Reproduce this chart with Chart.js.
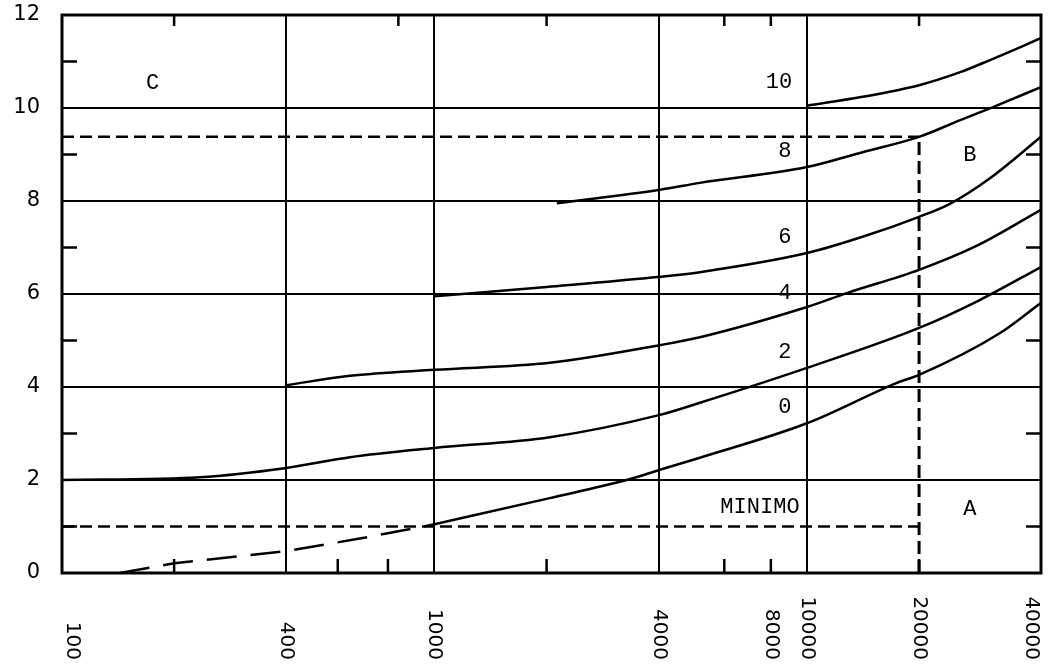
<!DOCTYPE html>
<html>
<head>
<meta charset="utf-8">
<script src="https://cdn.jsdelivr.net/npm/chart.js@4/dist/chart.umd.min.js"></script>
<style>
  body { margin: 0; background: #fff; }
  #wrap { width: 1053px; height: 665px; }
</style>
</head>
<body>
<div id="wrap"><canvas id="grafico"></canvas></div>
<script>
// eje x (logaritmico) y eje y
var xMin = 100, xMax = 42500;
var xGridValues = [400, 1000, 4000, 10000];
var xTickValues = [100, 400, 1000, 4000, 8000, 10000, 20000, 40000];
var xTickLabels = ["100", "400", "1000", "4000", "8000", "10000", "20000", "40000"];
var xMinorBottom = [200, 550, 750, 2000, 6000, 8000, 20000];
var xMinorTop = [200, 800, 2000, 6000, 8000, 20000];
var yMinor = [1, 3, 5, 7, 9, 11];

// curvas
var curva0TrazosX = [143, 200, 400, 619, 925, 1000];
var curva0TrazosY = [0, 0.21, 0.47, 0.73, 0.99, 1.05];
var curva0X = [1000, 2040, 3350, 4030, 5160, 10000, 17450, 20000, 33000, 42500];
var curva0Y = [1.05, 1.61, 2.02, 2.22, 2.48, 3.22, 4.09, 4.26, 5.16, 5.81];
var curva2X = [100, 235, 400, 593, 1000, 2040, 4030, 5160, 10000, 20000, 29100, 42500];
var curva2Y = [2.0, 2.06, 2.26, 2.49, 2.69, 2.92, 3.40, 3.66, 4.41, 5.27, 5.87, 6.58];
var curva4X = [400, 593, 1000, 2040, 4030, 5160, 10000, 12800, 20000, 28800, 42500];
var curva4Y = [4.04, 4.24, 4.37, 4.52, 4.90, 5.07, 5.72, 6.02, 6.52, 7.05, 7.81];
var curva6X = [1000, 2000, 4030, 5160, 10000, 14100, 20000, 24200, 31000, 42500];
var curva6Y = [5.95, 6.15, 6.37, 6.47, 6.88, 7.23, 7.66, 7.94, 8.49, 9.38];
var curva8X = [2130, 4030, 5160, 10000, 14100, 20000, 25800, 31600, 42500];
var curva8Y = [7.95, 8.24, 8.39, 8.73, 9.05, 9.38, 9.74, 10.02, 10.45];
var curva10X = [10000, 14100, 20000, 25800, 31000, 42500];
var curva10Y = [10.05, 10.24, 10.49, 10.77, 11.03, 11.5];

// lineas de referencia
var nivelAlto = 9.38, nivelMinimo = 1.0, xReferencia = 20000;

// textos dentro del grafico
var rotulos = [
  { t: "C", x: 175, y: 10.54 },
  { t: "10", x: 8410, y: 10.56 },
  { t: "8", x: 8730, y: 9.08 },
  { t: "B", x: 27390, y: 8.99 },
  { t: "6", x: 8730, y: 7.23 },
  { t: "4", x: 8730, y: 6.02 },
  { t: "2", x: 8730, y: 4.75 },
  { t: "0", x: 8730, y: 3.57 },
  { t: "MINIMO", x: 7480, y: 1.42 },
  { t: "A", x: 27390, y: 1.38 }
];

function puntos(xs, ys) {
  return xs.map(function (x, i) { return { x: x, y: ys[i] }; });
}

function curva(xs, ys) {
  return {
    data: puntos(xs, ys),
    borderColor: "#000",
    borderWidth: 2.5,
    pointRadius: 0,
    cubicInterpolationMode: "monotone",
    fill: false
  };
}

function trazos(data, dash, width) {
  return {
    data: data,
    borderColor: "#000",
    borderWidth: width,
    borderDash: dash,
    pointRadius: 0,
    tension: 0,
    fill: false
  };
}

var extras = {
  id: "extras",
  beforeDraw: function (chart) {
    var c = chart.ctx;
    c.save();
    c.fillStyle = "#fff";
    c.fillRect(0, 0, chart.width, chart.height);
    c.restore();
  },
  afterDraw: function (chart) {
    var c = chart.ctx, a = chart.chartArea;
    var sx = chart.scales.x, sy = chart.scales.y;
    c.save();
    c.strokeStyle = "#000";
    c.fillStyle = "#000";

    // marco
    c.lineWidth = 3;
    c.strokeRect(a.left, a.top, a.right - a.left, a.bottom - a.top);

    // marcas menores hacia adentro
    c.lineWidth = 2.5;
    c.beginPath();
    xMinorBottom.forEach(function (v) {
      var px = sx.getPixelForValue(v);
      c.moveTo(px, a.bottom); c.lineTo(px, a.bottom - 14);
    });
    xMinorTop.forEach(function (v) {
      var px = sx.getPixelForValue(v);
      c.moveTo(px, a.top); c.lineTo(px, a.top + 11);
    });
    yMinor.forEach(function (v) {
      var py = sy.getPixelForValue(v);
      c.moveTo(a.left, py); c.lineTo(a.left + 15, py);
      c.moveTo(a.right, py); c.lineTo(a.right - 15, py);
    });
    c.stroke();

    // etiquetas del eje x, giradas
    c.font = "20px 'DejaVu Sans'";
    c.textAlign = "right";
    c.textBaseline = "middle";
    xTickValues.forEach(function (v, i) {
      var px = Math.min(Math.max(sx.getPixelForValue(v), a.left + 10), a.right - 4);
      c.save();
      c.translate(px, 660);
      c.rotate(Math.PI / 2);
      c.fillText(xTickLabels[i], 0, 0);
      c.restore();
    });

    // rotulos
    c.font = "22px 'Liberation Mono'";
    c.textAlign = "center";
    c.textBaseline = "middle";
    rotulos.forEach(function (r) {
      c.fillText(r.t, sx.getPixelForValue(r.x), sy.getPixelForValue(r.y));
    });
    c.restore();
  }
};

document.addEventListener("DOMContentLoaded", function () {
  var ctx = document.getElementById("grafico").getContext("2d");
  new Chart(ctx, {
    type: "line",
    data: {
      datasets: [
        curva(curva10X, curva10Y),
        curva(curva8X, curva8Y),
        curva(curva6X, curva6Y),
        curva(curva4X, curva4Y),
        curva(curva2X, curva2Y),
        curva(curva0X, curva0Y),
        trazos(puntos(curva0TrazosX, curva0TrazosY), [30, 14], 2.5),
        trazos([{ x: xMin, y: nivelAlto }, { x: xReferencia, y: nivelAlto }], [12, 6], 2.5),
        trazos([{ x: xMin, y: nivelMinimo }, { x: xReferencia, y: nivelMinimo }], [12, 6], 2.5),
        trazos([{ x: xReferencia, y: 0 }, { x: xReferencia, y: nivelAlto }], [13, 6], 3)
      ]
    },
    options: {
      responsive: true,
      maintainAspectRatio: false,
      animation: false,
      layout: { padding: { top: 15, right: 12, left: 0, bottom: 0 } },
      plugins: { legend: { display: false }, tooltip: { enabled: false } },
      scales: {
        x: {
          type: "logarithmic",
          min: xMin,
          max: xMax,
          afterBuildTicks: function (s) {
            s.ticks = xGridValues.map(function (v) { return { value: v }; });
          },
          afterFit: function (s) { s.height = 92; s.paddingLeft = 0; s.paddingRight = 0; },
          ticks: { display: false },
          grid: { color: "#000", lineWidth: 2, drawTicks: false },
          border: { display: false }
        },
        y: {
          min: 0,
          max: 12,
          afterFit: function (s) { s.width = 62; s.paddingTop = 0; s.paddingBottom = 0; },
          ticks: {
            stepSize: 2,
            color: "#000",
            padding: 22,
            font: { family: "DejaVu Sans", size: 21 }
          },
          grid: { color: "#000", lineWidth: 2, drawTicks: false },
          border: { display: false }
        }
      }
    },
    plugins: [extras]
  });
});
</script>
</body>
</html>
